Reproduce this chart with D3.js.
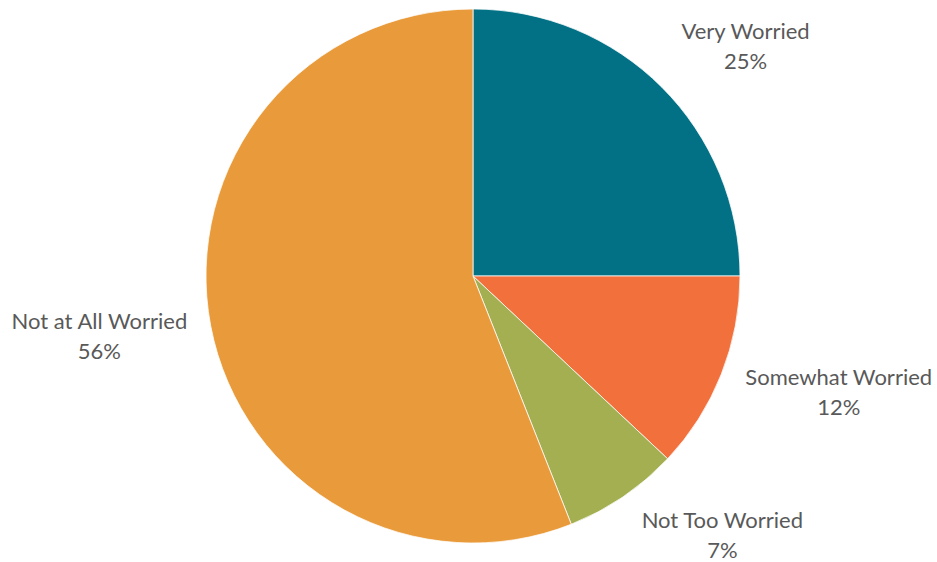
<!DOCTYPE html>
<html>
<head>
<meta charset="utf-8">
<script src="https://cdn.jsdelivr.net/npm/d3@7"></script>
<style>
  html, body { margin: 0; padding: 0; background: #ffffff; }
  svg { display: block; }
</style>
</head>
<body>
<svg id="chart" width="937" height="562"></svg>
<script>
// Survey responses: level of worry
const categories = ["Very Worried", "Somewhat Worried", "Not Too Worried", "Not at All Worried"];
const values = [25, 12, 7, 56];
const colors = ["#037185", "#F2703C", "#A3AF51", "#E99B3B"];

// Label nudges (px) applied after placing each label on an outer ring
const labelNudge = [[18, 32], [31, -10], [47, -32], [-20, 0]];

const width = 937, height = 562;
const cx = 473, cy = 276, radius = 267, labelRadius = 360;

const svg = d3.select("#chart");
const g = svg.append("g").attr("transform", `translate(${cx},${cy})`);

const data = categories.map((c, i) => ({ name: c, value: values[i], color: colors[i], i }));

const pie = d3.pie().value(d => d.value).sort(null);
const arcs = pie(data);

const arc = d3.arc().innerRadius(0).outerRadius(radius);
const labelArc = d3.arc().innerRadius(labelRadius).outerRadius(labelRadius);

g.selectAll("path.slice")
  .data(arcs)
  .join("path")
  .attr("class", "slice")
  .attr("d", arc)
  .attr("fill", d => d.data.color)
  .attr("stroke", "#ffffff")
  .attr("stroke-width", 0.75);

const labels = g.selectAll("text.label")
  .data(arcs)
  .join("text")
  .attr("class", "label")
  .attr("text-anchor", "middle")
  .attr("font-family", "Lato, 'Open Sans', sans-serif")
  .attr("font-size", 22)
  .attr("fill", "#595959")
  .attr("transform", d => {
    const [x, y] = labelArc.centroid(d);
    const [dx, dy] = labelNudge[d.data.i];
    return `translate(${x + dx},${y + dy})`;
  });

labels.append("tspan").attr("x", 0).attr("y", -14).text(d => d.data.name);
labels.append("tspan").attr("x", 0).attr("y", 16).text(d => d3.format(".0%")(d.data.value / d3.sum(values)));
</script>
</body>
</html>
